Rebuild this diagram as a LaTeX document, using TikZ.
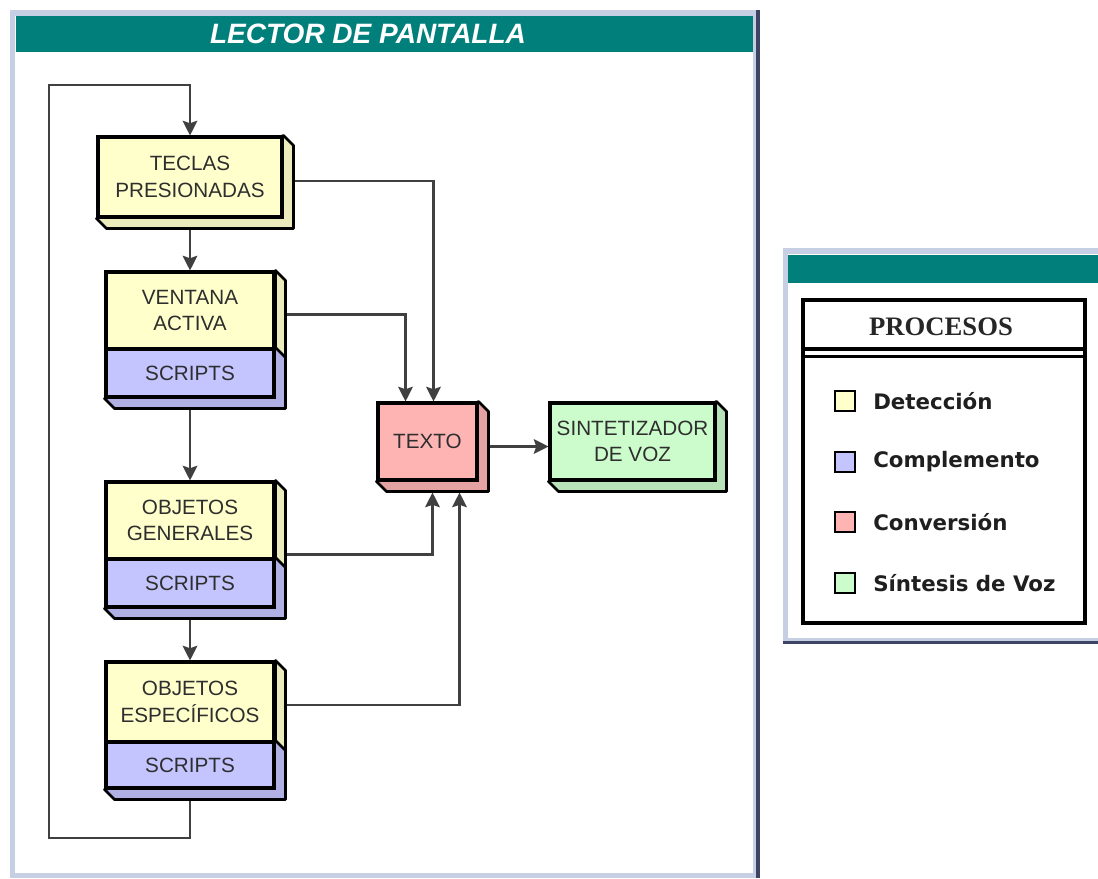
\documentclass[tikz,border=0pt]{standalone}
\usepackage{fontspec}
\usetikzlibrary{arrows.meta,calc}
\newfontfamily\boxfont{Liberation Sans}
\newfontfamily\legendfont{DejaVu Sans}
\newfontfamily\headfont{Liberation Serif}
\definecolor{barteal}{HTML}{007F7B}
\definecolor{framelight}{HTML}{C7CFE4}
\definecolor{framedark}{HTML}{3E4564}
\definecolor{detc}{HTML}{FFFFCC}
\definecolor{compc}{HTML}{C4C4FF}
\definecolor{convc}{HTML}{FFB4B4}
\definecolor{sync}{HTML}{CCFCCC}
\definecolor{linegray}{HTML}{404040}
\newcommand\pxu{0.75pt}
\pgfdeclarelayer{back}
\pgfdeclarelayer{bg}
\pgfsetlayers{back,bg,main}
% side and bottom faces of an extruded box (drawn behind the front face)
\newcommand\sidefull[2]{\path[side,fill=#2] (#1.north east) -- ++(10,10) -- ($(#1.south east)+(10,10)$) -- ($(#1.south west)+(10,10)$) -- (#1.south west) -- cycle;}
\newcommand\sidetop[2]{\path[side,fill=#2] (#1.north east) -- ++(10,10) -- ($(#1.south east)+(10,10)$) -- (#1.south east) -- cycle;}
\begin{document}
\begin{tikzpicture}[x=0.75pt,y=-0.75pt,
  box/.style={draw=black,line width=2.3pt,inner sep=0pt,align=center,
    font=\boxfont\fontsize{15.5}{20}\selectfont,text=black!82},
  detbox/.style={box,fill=detc},
  compbox/.style={box,fill=compc},
  convbox/.style={box,fill=convc},
  synbox/.style={box,fill=sync},
  side/.style={draw=black,line width=2pt,line join=round},
  conn/.style={draw=linegray,line width=1.6pt,-{Stealth[length=11pt,width=11pt,inset=1.8pt]}},
  key/.style={draw=black,line width=1.8pt,minimum size=20*\pxu,inner sep=0pt},
  keytext/.style={anchor=west,inner sep=0pt,font=\legendfont\bfseries\fontsize{16}{18}\selectfont,text=black!88},
]
\useasboundingbox (0,0) rectangle (1098,878);

% ---- panels ----
\begin{pgfonlayer}{back}
  % main panel
  \fill[framelight] (10,10) rectangle (757,878);
  \fill[white] (15,16) rectangle (753,873);
  \fill[barteal] (16,16) rectangle (753,52);
  \fill[framedark] (756,10) rectangle (759.5,878);
  % legend panel
  \fill[framelight] (783,248) rectangle (1098,643);
  \fill[white] (788,254) rectangle (1098,638);
  \fill[barteal] (788,255) rectangle (1098,283);
  \fill[framedark] (783,640.5) rectangle (1098,644);
\end{pgfonlayer}

\node[font=\boxfont\bfseries\itshape\fontsize{21}{24}\selectfont,text=white] (title) at (368,34) {LECTOR DE PANTALLA};

% ---- process boxes (front faces) ----
\node[detbox,minimum width=184*\pxu,minimum height=80*\pxu] (teclas) at (190,177) {TECLAS\\PRESIONADAS};
\node[detbox,minimum width=168*\pxu,minimum height=77*\pxu] (ventana) at (190,310.5) {VENTANA\\ACTIVA};
\node[compbox,minimum width=168*\pxu,minimum height=48*\pxu] (scr1) at (190,373) {SCRIPTS};
\node[detbox,minimum width=168*\pxu,minimum height=77*\pxu] (generales) at (190,520.5) {OBJETOS\\GENERALES};
\node[compbox,minimum width=168*\pxu,minimum height=48*\pxu] (scr2) at (190,583) {SCRIPTS};
\node[detbox,minimum width=168*\pxu,minimum height=80*\pxu] (espec) at (190,702) {OBJETOS\\ESPEC\'IFICOS};
\node[compbox,minimum width=168*\pxu,minimum height=46*\pxu] (scr3) at (190,765) {SCRIPTS};
\node[convbox,minimum width=99*\pxu,minimum height=77*\pxu] (texto) at (427.5,441.5) {TEXTO};
\node[synbox,minimum width=165*\pxu,minimum height=77*\pxu] (sint) at (632.5,441.5) {SINTETIZADOR\\DE VOZ};

\coordinate (loopbl) at (49,838);
\coordinate (looptl) at (49,85);

\begin{pgfonlayer}{bg}
  % connectors
  \draw[conn] (scr3.south) |- (loopbl) -- (looptl) -| (teclas.north);
  \draw[conn] (teclas.south) -- (ventana.north);
  \draw[conn] (scr1.south) -- (generales.north);
  \draw[conn] (scr2.south) -- (espec.north);
  \draw[conn] ([shift={(0,4)}]teclas.east) -| ([shift={(6,0)}]texto.north);
  \draw[conn] ([shift={(0,4)}]ventana.east) -| ([shift={(-22,0)}]texto.north);
  \draw[conn] ([shift={(0,34)}]generales.east) -| ([shift={(5,11)}]texto.south);
  \draw[conn] ([shift={(0,3)}]espec.east) -| ([shift={(32,11)}]texto.south);
  \draw[conn] ([shift={(10,5)}]texto.east) -- ([shift={(0,5)}]sint.west);
  % extruded faces
  \sidefull{teclas}{detc!92!black}
  \sidetop{ventana}{detc!92!black}
  \sidefull{scr1}{compc!90!black}
  \sidetop{generales}{detc!92!black}
  \sidefull{scr2}{compc!90!black}
  \sidetop{espec}{detc!92!black}
  \sidefull{scr3}{compc!90!black}
  \sidefull{texto}{convc!90!black}
  \sidefull{sint}{sync!90!black}
\end{pgfonlayer}

% ---- legend ----
\draw[line width=2.3pt] (803,300) rectangle (1085,623);
\node[font=\headfont\bfseries\fontsize{20}{24}\selectfont,text=black!85] (legtitle) at (941,327) {PROCESOS};
\draw[line width=2.3pt] (803,349) -- (1085,349);
\draw[line width=1.6pt] (803,356.5) -- (1085,356.5);

\node[key,fill=detc] (k1) at (845,401) {};
\node[key,fill=compc] (k2) at (845,462) {};
\node[key,fill=convc] (k3) at (845,522) {};
\node[key,fill=sync] (k4) at (845,583) {};
\node[keytext] (t1) at (873,401) {Detección};
\node[keytext] (t2) at (873,462) {Complemento};
\node[keytext] (t3) at (873,522) {Conversión};
\node[keytext] (t4) at (873,583) {Síntesis de Voz};
\end{tikzpicture}
\end{document}
